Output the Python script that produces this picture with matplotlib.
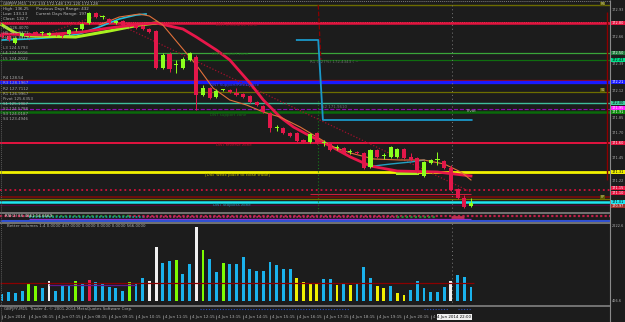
import numpy as np
import matplotlib
matplotlib.use('Agg')
import matplotlib.pyplot as plt

W, H = 625, 322
BG = '#1c1c1c'
BEAR = '#e3174a'
BULL = '#8cff1e'

# GBPJPY M15 candles
opens = [172.69, 172.67, 172.60, 172.67, 172.70, 172.71, 172.70, 172.68, 172.70, 172.70,
         172.69, 172.74, 172.74, 172.80, 172.90, 172.86, 172.84, 172.80, 172.82, 172.80,
         172.78, 172.77, 172.74, 172.72, 172.35, 172.49, 172.38, 172.35, 172.43, 172.46,
         172.08, 172.15, 172.06, 172.13, 172.13, 172.10, 172.09, 172.07, 172.01, 171.97,
         171.90, 171.75, 171.75, 171.70, 171.70, 171.63, 171.61, 171.70, 171.60, 171.60,
         171.55, 171.55, 171.51, 171.51, 171.50, 171.36, 171.53, 171.47, 171.46, 171.46,
         171.54, 171.46, 171.45, 171.27, 171.40, 171.43, 171.42, 171.35, 171.14, 171.05,
         170.97]
highs = [172.70, 172.68, 172.66, 172.71, 172.71, 172.72, 172.72, 172.71, 172.71, 172.71,
         172.74, 172.75, 172.80, 172.91, 172.91, 172.88, 172.85, 172.83, 172.83, 172.81,
         172.79, 172.78, 172.75, 172.73, 172.50, 172.51, 172.43, 172.46, 172.51, 172.48,
         172.18, 172.16, 172.14, 172.14, 172.14, 172.15, 172.10, 172.08, 172.02, 171.98,
         171.91, 171.78, 171.76, 171.71, 171.71, 171.64, 171.70, 171.71, 171.63, 171.61,
         171.58, 171.56, 171.54, 171.52, 171.51, 171.54, 171.54, 171.50, 171.57, 171.55,
         171.55, 171.50, 171.46, 171.42, 171.44, 171.51, 171.43, 171.38, 171.15, 171.08,
         171.05]
lows = [172.65, 172.62, 172.59, 172.66, 172.66, 172.68, 172.68, 172.67, 172.67, 172.65,
        172.68, 172.72, 172.73, 172.79, 172.85, 172.84, 172.79, 172.79, 172.77, 172.76,
        172.74, 172.73, 172.70, 172.34, 172.34, 172.31, 172.30, 172.34, 172.42, 171.93,
        172.07, 172.04, 172.05, 172.12, 172.10, 172.07, 172.05, 172.00, 171.97, 171.90,
        171.71, 171.72, 171.69, 171.66, 171.61, 171.60, 171.60, 171.59, 171.57, 171.52,
        171.53, 171.49, 171.49, 171.49, 171.34, 171.35, 171.45, 171.44, 171.45, 171.45,
        171.44, 171.42, 171.30, 171.26, 171.39, 171.38, 171.34, 171.12, 171.04, 170.95,
        170.96]
closes = [172.66, 172.63, 172.65, 172.70, 172.67, 172.69, 172.70, 172.70, 172.68, 172.67,
          172.73, 172.74, 172.79, 172.90, 172.86, 172.86, 172.80, 172.82, 172.78, 172.77,
          172.75, 172.74, 172.71, 172.35, 172.48, 172.34, 172.38, 172.44, 172.50, 172.08,
          172.15, 172.05, 172.12, 172.13, 172.11, 172.08, 172.06, 172.01, 171.98, 171.91,
          171.75, 171.75, 171.70, 171.67, 171.62, 171.61, 171.69, 171.60, 171.60, 171.53,
          171.55, 171.50, 171.51, 171.50, 171.35, 171.53, 171.46, 171.47, 171.56, 171.54,
          171.45, 171.43, 171.31, 171.41, 171.43, 171.43, 171.35, 171.13, 171.05, 170.96,
          171.00]

# tick volumes + colour code of "Better volume"
volumes = [210, 270, 240, 300, 540, 450, 390, 600, 300, 450,
           450, 600, 540, 630, 570, 510, 420, 390, 300, 570,
           540, 690, 600, 1620, 1140, 1200, 1230, 810, 1110, 2220,
           1530, 1260, 870, 1140, 1110, 1110, 1320, 960, 900, 900,
           1170, 1080, 960, 960, 690, 570, 540, 540, 660, 660,
           480, 510, 480, 540, 1020, 690, 450, 390, 450, 240,
           180, 330, 600, 390, 270, 270, 420, 600, 780, 720,
           420]
vol_codes = ('bbbbggbwbb' 'bgbrbbbbbg' 'bbwwbbgbbw' 'gbbgbbbbbb'
             'bbbbyyyybb' 'ybybbbyyby' 'ybbbbbbwbb' 'b')
vol_avg = 540

# moving averages / indicator lines (bar index, price)
ma_red_x = [0, 6, 12, 16, 21, 23, 27, 29, 32, 34, 37, 39, 41.5, 43.5, 46, 49, 52, 55, 59, 65, 70]
ma_red_y = [172.69, 172.68, 172.71, 172.75, 172.79, 172.80, 172.74, 172.66, 172.53, 172.43,
            172.20, 172.03, 171.86, 171.76, 171.67, 171.57, 171.46, 171.37, 171.32, 171.31, 171.27]
ma_org_x = [14.5, 17.5, 20.5, 22, 24, 26.5, 29, 31.5, 34, 36.5, 39, 41.5, 44.5, 49.5, 52,
            55.5, 59.5, 63, 66, 68.5, 70]
ma_org_y = [172.78, 172.86, 172.89, 172.87, 172.78, 172.58, 172.38, 172.15, 172.03, 171.98,
            171.91, 171.86, 171.76, 171.56, 171.50, 171.44, 171.43, 171.43, 171.39, 171.31, 171.23]
ma_cyan_x = [0, 4, 8.5, 11.5, 14.5, 17.5, 20, 21.5]
ma_cyan_y = [172.63, 172.64, 172.66, 172.69, 172.76, 172.84, 172.88, 172.89]
ma_cyan2_x = [55.5, 58, 61, 63]
ma_cyan2_y = [171.37, 171.39, 171.41, 171.43]
ma_lime_x = [0, 2, 4, 11, 16, 20.5, 23]
ma_lime_y = [172.78, 172.70, 172.67, 172.66, 172.72, 172.78, 172.80]
ma_lime2_x = [59, 62]
ma_lime2_y = [171.30, 171.30]
step_x = [44, 47.2, 47.9, 70.1]
step_y = [172.63, 172.63, 171.83, 171.83]
trend_x = [4, 14.5, 70]
trend_y = [172.63, 172.88, 171.11]

# horizontal levels
level_prices = [172.98, 172.80, 172.50, 172.43, 172.23, 172.21, 172.11, 172.00, 171.94,
                171.91, 171.60, 171.31, 171.13, 171.06, 171.04, 171.01, 170.98]
level_colors = ['#6b6b00', '#e3143f', '#3aa53a', '#0f6e0f', '#9b0a0a', '#1a1aff', '#6e6e00',
                '#3fbf9a', '#8a10b0', '#0a6a0a', '#e3143f', '#f2f200', '#d0103c', '#7a0a0a',
                '#6e6e00', '#1ee6f0', '#4a0a3a']
level_widths = [1.0, 1.8, 0.9, 0.9, 0.9, 2.4, 0.9, 1.0, 0.8, 1.8, 1.4, 2.0, 1.3, 1.2, 0.9, 1.8, 0.8]
level_styles = ['-', '-', '-', '-', '-', '-', '-', '-', '--', '-', '-', '-', ':', '-', '-', '-', '-']

box_prices = [172.80, 172.50, 172.43, 172.21, 172.00, 171.95, 171.91, 171.60, 171.31,
              171.15, 171.10, 171.01, 170.97]
box_colors = ['#e3143f', '#1e7a3c', '#00e08a', '#1a1aff', '#3fd0a0', '#ff1aff', '#0a8a0a',
              '#e3143f', '#f2f200', '#e3143f', '#e3143f', '#1ee6f0', '#a0302a']
box_text = ['w', 'w', 'k', 'w', 'k', 'w', 'w', 'w', 'k', 'w', 'w', 'k', 'w']
tick_prices = [172.93, 172.66, 172.39, 172.12, 171.85, 171.70, 171.45, 171.22]

notes = [(32, 172.78, 'DNT resistance zone', '#a0102c'),
         (31, 172.18, 'DNT Support/Resistance', '#3838ff'),
         (30.3, 171.28, '[DNT weak place to close trade]', '#b8b800'),
         (32, 171.58, 'DNT reverse zone', '#b0102c'),
         (31.5, 170.98, 'DNT Stoploss zone', '#1aa0a8'),
         (31.3, 172.49, 'DNT support zone', '#1a6a1a'),
         (31, 171.88, 'DNT support zone', '#1a6a1a'),
         (46, 172.41, 'R1 (127%) 172.4343 ( ~', '#6a6a6a'),
         (47.8, 171.96, 'S2 171.9610', '#6a6a6a'),
         (69.4, 171.92, 'Pivot', '#b0b0b0')]

header = ['GBPJPY,M15  172.133 172.148 172.120 172.128',
          'High: 136.25      Previous Days Range: 432',
          'Low: 133.13       Current Days Range: 197',
          'Close: 132.7']
pivot_labels = ['H6 126.4070', 'H5 125.9373', 'H4 125.8511', 'L3 124.5793', 'L4 124.5016',
                'L5 124.2022', 'R4 128.54', 'R3 128.1967', 'R2 127.7112', 'R1 126.9967',
                'Pivot 125.6353', 'S1 125.1967', 'S2 124.5788', 'S3 124.0187', 'S4 123.4946']
pivot_rows = [28, 33, 38, 48, 53, 59, 78, 83, 89, 94, 99, 104, 109, 114, 119]

time_ticks = [0, 4, 8, 12, 16, 20, 24, 28, 32, 36, 40, 44, 48, 52, 56, 60, 64]
time_labels = ['4 Jun 2014', '4 Jun 06:15', '4 Jun 07:15', '4 Jun 08:15', '4 Jun 09:15',
               '4 Jun 10:15', '4 Jun 11:15', '4 Jun 12:15', '4 Jun 13:15', '4 Jun 14:15',
               '4 Jun 15:15', '4 Jun 16:15', '4 Jun 17:15', '4 Jun 18:15', '4 Jun 19:15',
               '4 Jun 20:15', '4 Jun 21:15']

FS = 2.9
FR = 2.5   # right scale labels
XL = (-0.3, 90.75)

fig = plt.figure(figsize=(W / 100, H / 100), dpi=100, facecolor=BG)


def px_axes(x0, y0, x1, y1, z=1):
    a = fig.add_axes([x0 / W, 1 - y1 / H, (x1 - x0) / W, (y1 - y0) / H], zorder=z)
    a.set_facecolor(BG)
    a.axis('off')
    a.set_xlim(*XL)
    return a


# ---- main price panel
ax = px_axes(0, 0, 610, 212)
ax.set_ylim(170.91, 173.03)

for p, c, lw, ls in zip(level_prices, level_colors, level_widths, level_styles):
    ax.axhline(p, color=c, lw=lw, ls=ls, zorder=1)
ax.hlines(171.09, 46, 70, color='#c81e3c', lw=0.8, zorder=1)
ax.hlines(172.81, -0.3, 90.75, color='#ff3050', lw=0.6, ls=':', zorder=1)

ax.vlines(67.2, 170.91, 173.03, color='#7a7a7a', lw=0.7, ls=(0, (1, 3)), zorder=1)
ax.vlines(90.3, 171.23, 172.91, color='#8b0000', lw=1.0, zorder=1)
ax.vlines(47.2, 170.91, 172.03, color='#1a7a1a', lw=0.8, ls=(0, (1, 2)), zorder=1)
ax.plot([47.2, 47.6], [172.98, 172.43], color='#8b0000', lw=0.9, ls='--', zorder=1)

ax.plot(step_x, step_y, color='#1a98c8', lw=1.3, zorder=2)
ax.plot(trend_x, trend_y, color='#a0102c', lw=0.9, ls=(0, (1, 1.5)), zorder=2)
ax.plot(ma_cyan_x, ma_cyan_y, color='#22c0e0', lw=1.2, zorder=3)
ax.plot(ma_cyan2_x, ma_cyan2_y, color='#22a0c0', lw=1.0, zorder=3)
ax.plot(ma_lime_x, ma_lime_y, color='#a8f020', lw=2.2, zorder=3)
ax.plot(ma_lime2_x, ma_lime2_y, color='#a8f020', lw=2.2, zorder=3)
ax.plot(ma_red_x, ma_red_y, color='#e8174a', lw=2.0, zorder=3)
ax.plot(ma_org_x, ma_org_y, color='#e0703a', lw=0.8, zorder=3)

for i, (o, h, l, c) in enumerate(zip(opens, highs, lows, closes)):
    col = BEAR if c < o else BULL
    ax.vlines(i, l, h, color=col, lw=0.7, zorder=4)
    ax.bar(i, max(abs(c - o), 0.008), bottom=min(o, c), width=0.62, color=col, lw=0, zorder=4)

for x, y, t, c in notes:
    ax.text(x, y, t, color=c, fontsize=FS, va='center', ha='left', zorder=5)

ytr = ax.get_yaxis_transform()
for p in tick_prices:
    ax.text(1.003, p, '%.2f' % p, transform=ytr, color='#b0b0b0', fontsize=FR,
            va='center', ha='left', clip_on=False)
for p, c, tc in zip(box_prices, box_colors, box_text):
    ax.text(1.003, p, '%.2f' % p, transform=ytr, color='white' if tc == 'w' else 'black',
            fontsize=FR, va='center', ha='left', clip_on=False,
            bbox=dict(boxstyle='square,pad=0.1', fc=c, ec='none'))
for x, p, t in [(89.3, 172.99, 'R4'), (89.3, 172.13, 'S1'), (89.3, 171.06, 'PP')]:
    ax.text(x, p, t, color='#d0d0a0', fontsize=FR, va='center', ha='left',
            bbox=dict(boxstyle='square,pad=0.1', fc='#5a5a00', ec='none'))

# ---- indicator strip
st = px_axes(0, 213, 610, 223)
st.set_ylim(10, 0)
st.hlines(2.5, -0.3, 4, color='#c0204a', lw=1.6, ls=(0, (1, 1)))
st.hlines(2.5, 4, 19, color='#2a8a3a', lw=1.6, ls=(0, (1, 1)))
st.hlines(2.5, 19, 90.75, color='#c0204a', lw=1.6, ls=(0, (1, 1)))
st.hlines(4.0, 4, 21, color='#1aa0a0', lw=1.2, ls=(0, (1, 1)))
st.hlines(4.0, 21, 59, color='#c03070', lw=1.2, ls=(0, (1, 1)))
st.hlines(4.0, 59, 65, color='#2a8a3a', lw=1.6, ls=(0, (1, 1)))
st.hlines(4.0, 67, 69, color='#c03050', lw=2.0)
st.hlines(5.5, 4, 70, color='#9030d0', lw=0.9)
st.hlines(6.8, -0.3, 90.75, color='#3050d0', lw=0.8)
st.hlines(8.2, -0.3, 90.75, color='#3050d0', lw=0.8)
st.text(0.5, 2.8, 'RSI(2) 56.4661 54.6669', color='#e0e0e0', fontsize=FS, va='center')

# ---- volume panel
va = px_axes(0, 223, 610, 306)
va.set_ylim(-150, 2340)
vcol = {'b': '#1ab2ec', 'g': '#7cfc00', 'w': '#f0f0f0', 'r': '#e8194b', 'y': '#f0f000'}
va.bar(np.arange(len(volumes)), volumes, width=0.42, color=[vcol[k] for k in vol_codes], lw=0)
va.hlines(vol_avg, -0.3, 70.4, color='#8b0000', lw=0.9)
va.hlines(480, 7, 20, color='#5a1a8a', lw=0.9)
va.vlines(67.2, -150, 2340, color='#7a7a7a', lw=0.7, ls=(0, (1, 3)))
va.text(0.7, 2250, 'Better volumes 1.4 0.0000 437.0000 0.0000 0.0000 0.0000 566.0000',
        color='#b0b0b0', fontsize=FS, va='center')
va.text(1.003, 2250, '2222.6', transform=va.get_yaxis_transform(), color='#b0b0b0',
        fontsize=FR, va='center', clip_on=False)
va.text(1.003, 0, '466.6', transform=va.get_yaxis_transform(), color='#b0b0b0',
        fontsize=FR, va='center', clip_on=False)

# ---- time scale
ta = px_axes(0, 306, 610, 322)
ta.set_ylim(16, 0)
ta.hlines(3.2, 29.5, 52, color='#2a50c0', lw=0.8, ls=(0, (1, 1.5)))
ta.hlines(3.2, 63, 66.5, color='#2a50c0', lw=0.8, ls=(0, (1, 1.5)))
ta.hlines(3.2, 68, 70, color='#2a50c0', lw=0.8, ls=(0, (1, 1.5)))
ta.text(0.3, 3.0, 'GBPJPY,M15  Trader 4, \u00a9 2001-2014 MetaQuotes Software Corp.',
        color='#b0b0b0', fontsize=FS, va='center')
for t, lab in zip(time_ticks, time_labels):
    ta.vlines(t, 8.5, 12.5, color='#909090', lw=0.5)
    ta.text(t + 0.3, 11, lab, color='#b0b0b0', fontsize=FS, va='center', ha='left')
ta.text(65.0, 11, '4 Jun 2014 22:00', color='black', fontsize=FS, va='center', ha='left',
        bbox=dict(boxstyle='square,pad=0.15', fc='#f0f0f0', ec='none'), zorder=5)

# ---- overlay: frame lines and header text
ov = fig.add_axes([0, 0, 1, 1], zorder=10)
ov.set_xlim(0, W)
ov.set_ylim(H, 0)
ov.axis('off')
ov.patch.set_alpha(0)
for y in (212.6, 222.8, 305.6):
    ov.hlines(y, 0, 610, color='#7a7a7a', lw=1.3)
ov.hlines(0.6, 0, 610, color='#7a7a7a', lw=0.7, ls=(0, (1, 1)))
ov.vlines(1, 0, 322, color='#5a5a5a', lw=0.7, ls=(0, (1, 1)))
ov.vlines(609.6, 0, 322, color='#8a8a8a', lw=0.8)

for k, line in enumerate(header):
    ov.text(3, 4 + 5 * k, line, color='#c0c0c0', fontsize=FS, va='center', ha='left')
for y, line in zip(pivot_rows, pivot_labels):
    ov.text(3, y, line, color='#a8a8a8', fontsize=FS, va='center', ha='left')

fig.savefig('out.png', dpi=100, facecolor=BG)
